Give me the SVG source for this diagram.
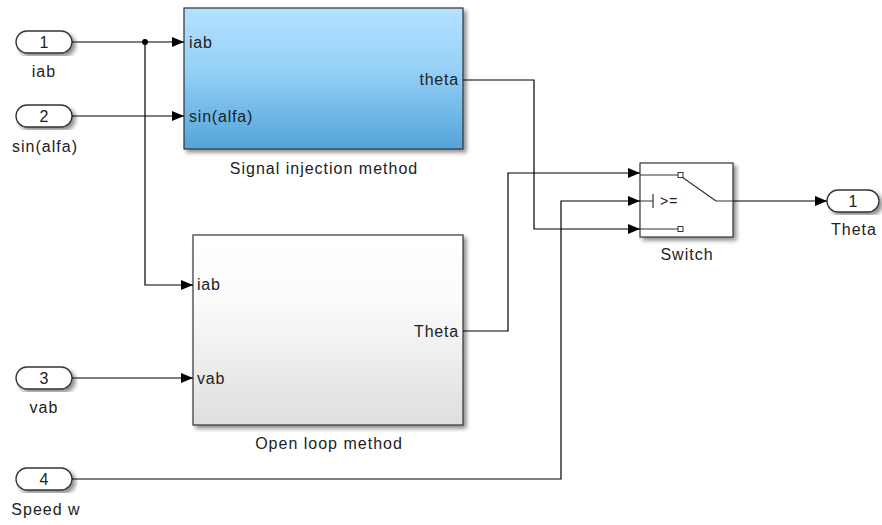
<svg xmlns="http://www.w3.org/2000/svg" width="882" height="525" viewBox="0 0 882 525">
  <defs>
    <linearGradient id="blueFill" x1="0" y1="0" x2="0" y2="1">
      <stop offset="0" stop-color="#b4e2ff"/>
      <stop offset="0.45" stop-color="#93d0f7"/>
      <stop offset="1" stop-color="#54a3da"/>
    </linearGradient>
    <linearGradient id="greyFill" x1="0" y1="0" x2="0" y2="1">
      <stop offset="0" stop-color="#ffffff"/>
      <stop offset="0.35" stop-color="#fbfbfb"/>
      <stop offset="1" stop-color="#dedede"/>
    </linearGradient>
    <filter id="shadow" x="-5%" y="-5%" width="115%" height="115%">
      <feGaussianBlur in="SourceAlpha" stdDeviation="2"/>
      <feOffset dx="3" dy="3" result="b"/>
      <feComponentTransfer><feFuncA type="linear" slope="0.45"/></feComponentTransfer>
      <feMerge><feMergeNode/><feMergeNode in="SourceGraphic"/></feMerge>
    </filter>
    <marker id="arrow" viewBox="0 0 12 10" refX="12" refY="5" markerWidth="12" markerHeight="10" markerUnits="userSpaceOnUse" orient="auto">
      <path d="M0,0 L12,5 L0,10 Z" fill="#000"/>
    </marker>
  </defs>
  <style>
    text { font-family: "Liberation Sans", Arial, sans-serif; fill: #222; }
    .lbl { font-size: 16px; letter-spacing: 1px; text-anchor: middle; }
    .port { font-size: 16px; letter-spacing: 0.8px; }
    .num { font-size: 16px; text-anchor: middle; }
    .block { stroke: #333; stroke-width: 1.2; }
    .io { fill: #fff; stroke: #333; stroke-width: 1.3; }
    .wire { fill: none; stroke: #000; stroke-width: 1.2; }
    .sym { fill: none; stroke: #333; stroke-width: 1.2; }
  </style>
  <rect width="882" height="525" fill="#fff"/>

  <!-- input ports -->
  <g id="in1">
    <rect class="io" x="16" y="31" width="56" height="22" rx="11" filter="url(#shadow)"/>
    <text class="num" x="44" y="48">1</text>
    <text class="lbl" x="44" y="77">iab</text>
  </g>
  <g id="in2">
    <rect class="io" x="16" y="105" width="56" height="22" rx="11" filter="url(#shadow)"/>
    <text class="num" x="44" y="122">2</text>
    <text class="lbl" x="45" y="152">sin(alfa)</text>
  </g>
  <g id="in3">
    <rect class="io" x="16" y="367" width="56" height="22" rx="11" filter="url(#shadow)"/>
    <text class="num" x="44" y="384">3</text>
    <text class="lbl" x="44" y="413">vab</text>
  </g>
  <g id="in4">
    <rect class="io" x="16" y="468" width="56" height="22" rx="11" filter="url(#shadow)"/>
    <text class="num" x="44" y="485">4</text>
    <text class="lbl" x="46" y="515">Speed w</text>
  </g>

  <!-- Signal injection subsystem -->
  <g id="signal-injection">
    <rect class="block" x="184" y="8" width="279" height="141" fill="url(#blueFill)" filter="url(#shadow)"/>
    <text class="port" x="189" y="48">iab</text>
    <text class="port" x="189" y="122">sin(alfa)</text>
    <text class="port" x="459" y="85" text-anchor="end">theta</text>
    <text class="lbl" x="324" y="174">Signal injection method</text>
  </g>

  <!-- Open loop subsystem -->
  <g id="open-loop">
    <rect class="block" x="193" y="235" width="270" height="190" fill="url(#greyFill)" filter="url(#shadow)"/>
    <text class="port" x="197" y="290">iab</text>
    <text class="port" x="197" y="384">vab</text>
    <text class="port" x="459" y="337" text-anchor="end">Theta</text>
    <text class="lbl" x="329" y="449">Open loop method</text>
  </g>

  <!-- Switch -->
  <g id="switch">
    <rect class="block" x="640" y="163" width="93" height="74" fill="#fff" filter="url(#shadow)"/>
    <path class="sym" d="M640,175 H678 M640,229 H678 M640,201 H653 M653,194 V208 M716,201 H733 M682,177 L716,201"/>
    <rect x="678" y="172.5" width="5" height="5" fill="#fff" stroke="#333" stroke-width="1"/>
    <rect x="678" y="226.5" width="5" height="5" fill="#fff" stroke="#333" stroke-width="1"/>
    <text x="660" y="206" font-size="14" letter-spacing="1">&gt;=</text>
    <text class="lbl" x="687" y="260">Switch</text>
  </g>

  <!-- output port -->
  <g id="out1">
    <rect class="io" x="827" y="190" width="52" height="22" rx="11" filter="url(#shadow)"/>
    <text class="num" x="853" y="207">1</text>
    <text class="lbl" x="854" y="235">Theta</text>
  </g>

  <!-- signal lines -->
  <g id="connectors">
    <path class="wire" d="M72,42 H184" marker-end="url(#arrow)"/>
    <path class="wire" d="M145,42 V285 H193" marker-end="url(#arrow)"/>
    <circle cx="145" cy="42" r="3" fill="#000"/>
    <path class="wire" d="M72,116 H184" marker-end="url(#arrow)"/>
    <path class="wire" d="M72,378 H193" marker-end="url(#arrow)"/>
    <path class="wire" d="M463,80 H534 V229 H640" marker-end="url(#arrow)"/>
    <path class="wire" d="M463,331 H508 V173 H640" marker-end="url(#arrow)"/>
    <path class="wire" d="M72,479 H561 V201 H640" marker-end="url(#arrow)"/>
    <path class="wire" d="M733,201 H827" marker-end="url(#arrow)"/>
  </g>
</svg>
